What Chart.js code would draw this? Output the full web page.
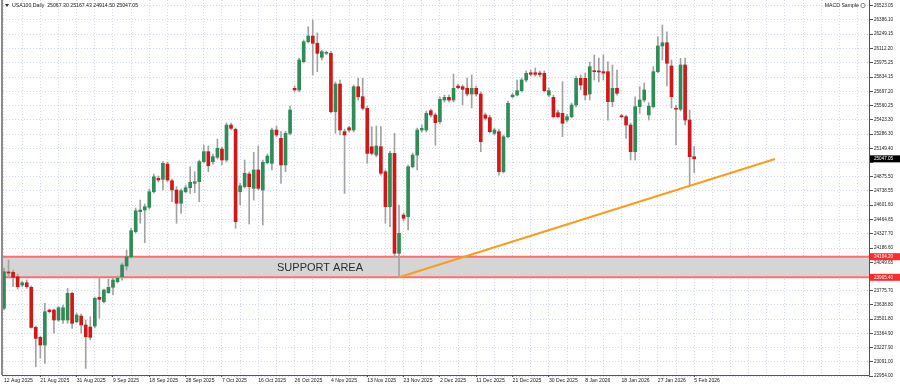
<!DOCTYPE html>
<html>
<head>
<meta charset="utf-8">
<script src="https://cdn.jsdelivr.net/npm/chart.js@4.4.1/dist/chart.umd.min.js"></script>
<style>
  html, body { margin: 0; padding: 0; background: #fff; }
  #wrap { width: 900px; height: 387px; position: relative; }
</style>
</head>
<body>
<div id="wrap"><canvas id="chart"></canvas></div>
<script>
// USA100 daily candles, 12 Aug 2025 .. 5 Feb 2026 (one label every 8 bars)
const dateLabels = ["12 Aug 2025", "21 Aug 2025", "31 Aug 2025", "9 Sep 2025", "18 Sep 2025",
  "28 Sep 2025", "7 Oct 2025", "16 Oct 2025", "26 Oct 2025", "4 Nov 2025", "13 Nov 2025",
  "23 Nov 2025", "2 Dec 2025", "11 Dec 2025", "21 Dec 2025", "30 Dec 2025", "8 Jan 2026",
  "18 Jan 2026", "27 Jan 2026", "5 Feb 2026"];

const opens = [23607, 23957, 23954, 23911, 23831, 23853, 23809, 23423, 23327, 23253,
  23590, 23590, 23494, 23494, 23494, 23751, 23477, 23532, 23446, 23426,
  23436, 23713, 23670, 23757, 23809, 23863, 23911, 24014, 24104, 24345,
  24538, 24554, 24580, 24730, 24860, 24850, 24997, 24836, 24747, 24619,
  24730, 24769, 24811, 24827, 25020, 25116, 25020, 25062, 25142, 25036,
  25373, 25332, 24730, 24779, 24901, 24763, 24940, 24747, 25010, 25004,
  25325, 25245, 24988, 25293, 25727, 25711, 25983, 26176, 26231, 26161,
  26026, 26064, 26064, 25501, 25768, 25309, 25347, 25325, 25742, 25646,
  25534, 25164, 25084, 25164, 24923, 24586, 25100, 24137, 24506, 24490,
  24971, 25084, 25325, 25325, 25511, 25470, 25405, 25614, 25640, 25614,
  25749, 25742, 25727, 25672, 25727, 25672, 25470, 25444, 25293, 25309,
  24923, 25260, 25646, 25662, 25704, 25807, 25877, 25877, 25874, 25871,
  25662, 25640, 25492, 25486, 25421, 25453, 25566, 25823, 25823, 25672,
  25897, 25894, 25887, 25887, 25598, 25727, 25463, 25453, 25373, 25116,
  25550, 25614, 25470, 25550, 25887, 26135, 26166, 25942, 25534, 25525,
  25952, 25421, 25067.30];
const highs = [23995, 24072, 23976, 23937, 23870, 23879, 23822, 23436, 23340, 23655,
  23600, 23600, 23625, 23638, 23799, 23764, 23561, 23552, 23494, 23526,
  23716, 23905, 23793, 23886, 23899, 23918, 24043, 24169, 24381, 24573,
  24650, 24612, 24756, 24901, 24882, 25020, 25017, 24853, 24779, 24756,
  24795, 24971, 24923, 25036, 25180, 25171, 25094, 25238, 25161, 25393,
  25393, 25344, 24814, 25036, 24920, 25110, 25171, 25036, 25094, 25344,
  25364, 25309, 25315, 25556, 25749, 26019, 26193, 26321, 26385, 26260,
  26096, 26086, 26086, 25788, 25807, 25335, 25364, 25759, 25826, 25826,
  25556, 25357, 25364, 25357, 24940, 25123, 25293, 24602, 24525, 24988,
  25103, 25344, 25373, 25508, 25527, 25489, 25643, 25662, 25662, 25865,
  25768, 25759, 25826, 25855, 25749, 25691, 25489, 25470, 25344, 25335,
  25277, 25605, 25682, 25807, 25826, 25894, 25903, 25923, 25894, 25894,
  25730, 25662, 25518, 25791, 25479, 25585, 25845, 25855, 25874, 25980,
  26048, 26019, 26048, 25983, 25951, 25903, 25479, 25470, 25393, 25646,
  25742, 25778, 25588, 25935, 26224, 26337, 26272, 26000, 25566, 26016,
  26019, 25518, 25167.43];
const lows = [23590, 23899, 23815, 23793, 23812, 23799, 23417, 23044, 23125, 23076,
  23561, 23366, 23480, 23462, 23462, 23414, 23465, 23366, 23028, 23301,
  23417, 23510, 23658, 23751, 23735, 23850, 23879, 23976, 24091, 24332,
  24426, 24239, 24564, 24718, 24824, 24747, 24824, 24634, 24426, 24522,
  24718, 24715, 24721, 24634, 25007, 24923, 24997, 25046, 24988, 25017,
  25325, 24378, 24602, 24766, 24419, 24650, 24747, 24410, 24997, 24940,
  25258, 24811, 24923, 25277, 25691, 25691, 25971, 26164, 25855, 25887,
  26000, 26048, 25489, 25293, 25277, 24715, 25306, 25306, 25614, 25518,
  25004, 25084, 25065, 24891, 24426, 24393, 24104, 23905, 24448, 24361,
  24959, 24940, 25306, 25306, 25450, 25180, 25383, 25595, 25595, 25595,
  25720, 25566, 25653, 25537, 25653, 25116, 25421, 25296, 25277, 24891,
  24911, 25248, 25634, 25653, 25691, 25788, 25845, 25845, 25836, 25691,
  25643, 25441, 25441, 25261, 25402, 25441, 25547, 25711, 25614, 25614,
  25807, 25788, 25807, 25421, 25550, 25662, 25441, 25245, 25036, 25036,
  25486, 25595, 25421, 25537, 25875, 26000, 25749, 25537, 25181, 25508,
  25373, 24795, 24914.50];
const closes = [23959, 23947, 23905, 23815, 23853, 23815, 23423, 23317, 23253, 23574,
  23574, 23494, 23612, 23612, 23751, 23462, 23542, 23446, 23333, 23327,
  23703, 23693, 23783, 23809, 23879, 23896, 24024, 24104, 24355, 24547,
  24554, 24586, 24730, 24875, 24843, 25004, 24843, 24747, 24619, 24740,
  24769, 24821, 24827, 25020, 25116, 24981, 25068, 25149, 25036, 25373,
  25341, 24441, 24788, 24908, 24779, 24940, 24763, 25014, 25074, 25325,
  25277, 24988, 25293, 25518, 25711, 26000, 26176, 26231, 26161, 26064,
  26080, 26074, 25501, 25768, 25325, 25277, 25325, 25742, 25646, 25534,
  25100, 25100, 25171, 24908, 24586, 25100, 24137, 24329, 24474, 24971,
  25084, 25325, 25341, 25486, 25470, 25395, 25621, 25640, 25614, 25727,
  25733, 25717, 25672, 25727, 25672, 25212, 25438, 25309, 25325, 24923,
  25260, 25582, 25662, 25704, 25807, 25871, 25862, 25862, 25860, 25704,
  25704, 25453, 25453, 25390, 25453, 25566, 25823, 25759, 25662, 25935,
  25887, 25884, 25874, 25598, 25727, 25679, 25453, 25373, 25116, 25550,
  25614, 25711, 25556, 25887, 26135, 26166, 25968, 25646, 25525, 25952,
  25421, 25068, 25047.05];

// price axis grid / labels
const yTicks = [26523.05, 26386.10, 26249.15, 26112.20, 25975.25, 25834.15, 25697.20,
  25560.25, 25423.30, 25286.30, 25149.40, 25012.45, 24875.50, 24738.55, 24601.60,
  24464.65, 24327.70, 24186.60, 24049.65, 23912.70, 23775.70, 23638.80, 23501.80,
  23364.90, 23227.90, 23091.00, 22954.00];

const supportTop = 24104.20;
const supportBottom = 23905.40;
const lastPrice = 25047.05;
// orange trend line, [bar index, price]
const trendX = [87, 169.8];
const trendY = [23905.40, 25046.00];

const BULL = "#2f8c56";
const BEAR = "#d01818";
const WICK = "#a3a3a3";
const GRID = "#d2d9e8";
const FONT = "'Liberation Sans', Arial, sans-serif";

const bodies = opens.map((o, i) => ({ x: i, y: [o, closes[i]] }));
const wicks = highs.map((h, i) => ({ x: i, y: [lows[i], h] }));
const bodyColors = opens.map((o, i) => closes[i] > o ? BULL : (closes[i] < o ? BEAR : "#555"));
const trend = trendX.map((x, i) => ({ x: x, y: trendY[i] }));

const sideLabels = [
  { v: lastPrice, bg: "#000000" },
  { v: supportTop, bg: "#ff2b2b" },
  { v: supportBottom, bg: "#ff2b2b" },
];

const decor = {
  id: "decor",
  beforeDatasetsDraw(chart) {
    const { ctx, chartArea: a, scales: { x, y } } = chart;
    const t = y.getPixelForValue(supportTop);
    const b = y.getPixelForValue(supportBottom);
    ctx.save();
    ctx.fillStyle = "#d5d5d5";
    ctx.fillRect(a.left, t, a.right - a.left, b - t);
    ctx.strokeStyle = "#ff6d6d";
    ctx.lineWidth = 2;
    ctx.beginPath();
    ctx.moveTo(a.left, t); ctx.lineTo(a.right, t);
    ctx.moveTo(a.left, b); ctx.lineTo(a.right, b);
    ctx.stroke();
    ctx.fillStyle = "#2e2e2e";
    ctx.font = "11px " + FONT;
    ctx.textAlign = "center";
    ctx.textBaseline = "middle";
    ctx.fillText("SUPPORT AREA", x.getPixelForValue(69.6), (t + b) / 2 + 0.5);
    ctx.restore();
  },
  afterDraw(chart) {
    const { ctx, chartArea: a, scales: { y } } = chart;
    ctx.save();
    // frame
    ctx.strokeStyle = "#8c8c8c";
    ctx.lineWidth = 2;
    ctx.beginPath(); ctx.moveTo(2, 0); ctx.lineTo(2, a.bottom); ctx.stroke();
    ctx.strokeStyle = "#555";
    ctx.lineWidth = 1;
    ctx.beginPath();
    ctx.moveTo(a.right + 0.5, 0); ctx.lineTo(a.right + 0.5, a.bottom + 0.5);
    ctx.lineTo(2, a.bottom + 0.5);
    ctx.stroke();
    // price tags on the axis
    ctx.font = "4.6px " + FONT;
    ctx.textBaseline = "middle";
    ctx.textAlign = "left";
    sideLabels.forEach(s => {
      const py = y.getPixelForValue(s.v);
      ctx.fillStyle = s.bg;
      ctx.fillRect(a.right + 1, py - 3.5, 900 - a.right - 1, 7);
      ctx.fillStyle = "#fff";
      ctx.fillText(s.v.toFixed(2), a.right + 5, py);
    });
    // header
    ctx.fillStyle = "#333";
    ctx.beginPath();
    ctx.moveTo(5, 4); ctx.lineTo(9, 4); ctx.lineTo(7, 7); ctx.closePath(); ctx.fill();
    ctx.font = "5.2px " + FONT;
    ctx.fillStyle = "#222";
    ctx.fillText("USA100,Daily  25067.30 25167.43 24914.50 25047.05", 12, 5.5);
    ctx.textAlign = "right";
    ctx.fillText("MACD Sample", a.right - 10, 5.5);
    ctx.strokeStyle = "#555";
    ctx.lineWidth = 0.7;
    ctx.beginPath(); ctx.arc(a.right - 6, 5.5, 2.2, 0, Math.PI * 2); ctx.stroke();
    ctx.restore();
  }
};

new Chart(document.getElementById("chart"), {
  type: "bar",
  data: {
    datasets: [
      {
        type: "line",
        data: trend,
        borderColor: "#ff9b1c",
        borderWidth: 2,
        pointRadius: 0,
        order: 0,
      },
      {
        data: bodies,
        backgroundColor: bodyColors,
        barThickness: 3,
        minBarLength: 1,
        grouped: false,
        order: 1,
      },
      {
        data: wicks,
        backgroundColor: WICK,
        barThickness: 1,
        grouped: false,
        order: 2,
      },
    ],
  },
  options: {
    responsive: true,
    maintainAspectRatio: false,
    animation: false,
    layout: { padding: { left: 3, top: 0, right: 0, bottom: 0 } },
    plugins: {
      legend: { display: false },
      tooltip: { enabled: false },
    },
    scales: {
      x: {
        type: "linear",
        offset: false,
        min: -0.22,
        max: 190.5,
        afterBuildTicks(scale) {
          const t = [];
          for (let v = 0; v <= 188; v += 4) t.push({ value: v });
          scale.ticks = t;
        },
        afterFit(scale) {
          scale.height = 12;
          scale.paddingLeft = 0; scale.paddingRight = 0;
          scale.paddingTop = 0; scale.paddingBottom = 0;
        },
        border: { display: false, dash: [1, 2] },
        grid: {
          offset: false,
          color: GRID,
          tickLength: 2,
          tickColor: (c) => (c.tick && c.tick.value % 8 === 0 && c.tick.value / 8 < dateLabels.length) ? "#555" : "rgba(0,0,0,0)",
        },
        ticks: {
          autoSkip: false,
          maxRotation: 0,
          align: "start",
          padding: 1,
          color: "#222",
          font: { size: 5.1, family: FONT },
          callback: (v) => (v % 8 === 0 ? (dateLabels[v / 8] || "") : ""),
        },
      },
      y: {
        type: "linear",
        position: "right",
        min: 22964,
        max: 26578,
        afterBuildTicks(scale) {
          scale.ticks = yTicks.map(v => ({ value: v }));
        },
        afterFit(scale) {
          scale.width = 31;
          scale.paddingLeft = 0; scale.paddingRight = 0;
          scale.paddingTop = 0; scale.paddingBottom = 0;
        },
        border: { display: false, dash: [1, 2] },
        grid: {
          color: GRID,
          tickLength: 4,
          tickColor: "#555",
        },
        ticks: {
          padding: 1,
          color: "#222",
          font: { size: 4.6, family: FONT },
          callback: (v) => sideLabels.some(s => Math.abs(s.v - v) < 45) ? "" : v.toFixed(2),
        },
      },
    },
  },
  plugins: [decor],
});
</script>
</body>
</html>
